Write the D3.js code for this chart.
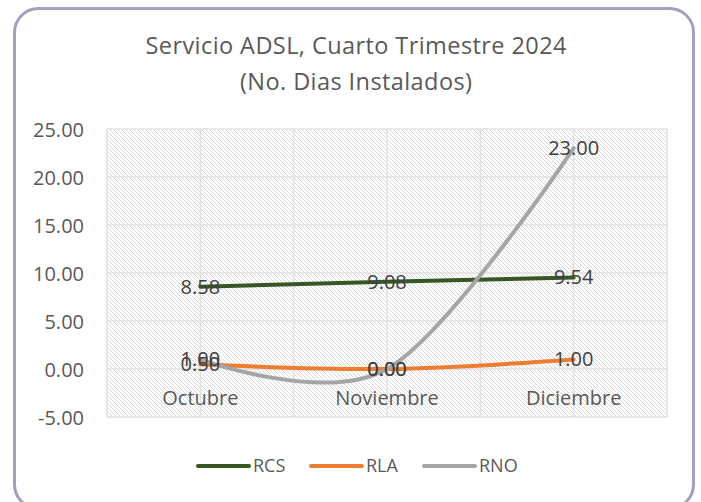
<!DOCTYPE html>
<html>
<head>
<meta charset="utf-8">
<script src="https://cdn.jsdelivr.net/npm/d3@7/dist/d3.min.js"></script>
<style>
  html, body { margin: 0; padding: 0; background: #ffffff; }
  svg { display: block; }
  text { font-family: "Open Sans", Lato, sans-serif; }
</style>
</head>
<body>
<svg id="chart" width="701" height="502"></svg>
<script>
const titleLines = ["Servicio ADSL, Cuarto Trimestre 2024", "(No. Dias Instalados)"];
const categories = ["Octubre", "Noviembre", "Diciembre"];
const seriesNames = ["RCS", "RLA", "RNO"];
const rcsValues = [8.58, 9.08, 9.54];
const rlaValues = [0.50, 0.00, 1.00];
const rnoValues = [1.00, 0.00, 23.00];
const yTicks = [-5, 0, 5, 10, 15, 20, 25];
const colors = ["#375623", "#ED7D31", "#A5A5A5"];

const series = [
  { name: seriesNames[0], values: rcsValues, color: colors[0] },
  { name: seriesNames[1], values: rlaValues, color: colors[1] },
  { name: seriesNames[2], values: rnoValues, color: colors[2] }
];

const fmt = d3.formatLocale({ decimal: ".", thousands: ",", grouping: [3], currency: ["$", ""], minus: "-" }).format(".2f");

const svg = d3.select("#chart");
const plot = { left: 107, right: 667, top: 129, bottom: 417 };

// Chart border
svg.append("rect")
  .attr("x", 14.5).attr("y", 8.5)
  .attr("width", 679).attr("height", 500)
  .attr("rx", 24).attr("ry", 24)
  .attr("fill", "#ffffff")
  .attr("stroke", "#A29FC2")
  .attr("stroke-width", 3);

// Hatch pattern
const defs = svg.append("defs");
const pat = defs.append("pattern")
  .attr("id", "hatch")
  .attr("patternUnits", "userSpaceOnUse")
  .attr("width", 4).attr("height", 4);
pat.append("rect").attr("width", 4).attr("height", 4).attr("fill", "#ffffff");
pat.append("path")
  .attr("d", "M-1,-1 L5,5 M-1,3 L1,5 M3,-1 L5,1")
  .attr("stroke", "#dadada").attr("stroke-width", 1);

// Scales
const x = d3.scaleBand().domain(categories).range([plot.left, plot.right]).padding(0);
const cx = c => x(c) + x.bandwidth() / 2;
const y = d3.scaleLinear().domain([-5, 25]).range([plot.bottom, plot.top]);

// Plot background
svg.append("rect")
  .attr("x", plot.left).attr("y", plot.top)
  .attr("width", plot.right - plot.left).attr("height", plot.bottom - plot.top)
  .attr("fill", "url(#hatch)");

// Gridlines
const grid = svg.append("g").attr("stroke", "#e0e0e0").attr("stroke-width", 1.5);
yTicks.forEach(t => {
  grid.append("line")
    .attr("x1", plot.left).attr("x2", plot.right)
    .attr("y1", y(t)).attr("y2", y(t));
});
const vx = [];
categories.forEach(c => { vx.push(x(c)); vx.push(cx(c)); });
vx.push(plot.right);
vx.forEach(v => {
  grid.append("line")
    .attr("x1", v).attr("x2", v)
    .attr("y1", plot.top).attr("y2", plot.bottom);
});

// Y axis
const yAxis = d3.axisLeft(y).tickValues(yTicks).tickFormat(fmt).tickSize(0).tickPadding(0);
const yg = svg.append("g").attr("transform", "translate(84,0)").call(yAxis);
yg.select(".domain").remove();
yg.selectAll("text")
  .attr("fill", "#595959")
  .style("font-size", "20px")
  .attr("dy", "0.35em");

// Category labels (below the zero line)
const xAxis = d3.axisBottom(x).tickSize(0).tickPadding(0);
const xg = svg.append("g").attr("transform", `translate(0,${y(0) + 29})`).call(xAxis);
xg.select(".domain").remove();
xg.selectAll("text")
  .attr("fill", "#595959")
  .attr("y", 0)
  .attr("dy", "0.35em")
  .style("font-size", "20px");

// Lines
const line = d3.line()
  .x((d, i) => cx(categories[i]))
  .y(d => y(d))
  .curve(d3.curveCardinal.tension(0));

series.forEach(s => {
  svg.append("path")
    .datum(s.values)
    .attr("d", line)
    .attr("fill", "none")
    .attr("stroke", s.color)
    .attr("stroke-width", 4)
    .attr("stroke-linecap", "round")
    .attr("stroke-linejoin", "round");
});

// Data labels
series.forEach(s => {
  svg.append("g").selectAll("text")
    .data(s.values)
    .join("text")
    .attr("x", (d, i) => cx(categories[i]))
    .attr("y", d => y(d))
    .attr("dy", "0.35em")
    .attr("text-anchor", "middle")
    .attr("fill", "#404040")
    .style("font-size", "20px")
    .text(d => fmt(d));
});

// Title
const titleWidths = [421, 232];
svg.append("g").selectAll("text")
  .data(titleLines)
  .join("text")
  .attr("x", 356)
  .attr("y", (d, i) => 46 + i * 36)
  .attr("dy", "0.35em")
  .attr("text-anchor", "middle")
  .attr("fill", "#595959")
  .style("font-size", "23.5px")
  .attr("textLength", (d, i) => titleWidths[i])
  .attr("lengthAdjust", "spacing")
  .text(d => d);

// Legend
const legendItems = [
  { name: seriesNames[0], color: colors[0], x1: 198 },
  { name: seriesNames[1], color: colors[1], x1: 311 },
  { name: seriesNames[2], color: colors[2], x1: 424 }
];
const lg = svg.append("g");
legendItems.forEach(it => {
  lg.append("line")
    .attr("x1", it.x1).attr("x2", it.x1 + 51)
    .attr("y1", 466).attr("y2", 466)
    .attr("stroke", it.color)
    .attr("stroke-width", 4)
    .attr("stroke-linecap", "round");
  lg.append("text")
    .attr("x", it.x1 + 55).attr("y", 466)
    .attr("dy", "0.35em")
    .attr("fill", "#595959")
    .style("font-size", "18px")
    .text(it.name);
});
</script>
</body>
</html>
